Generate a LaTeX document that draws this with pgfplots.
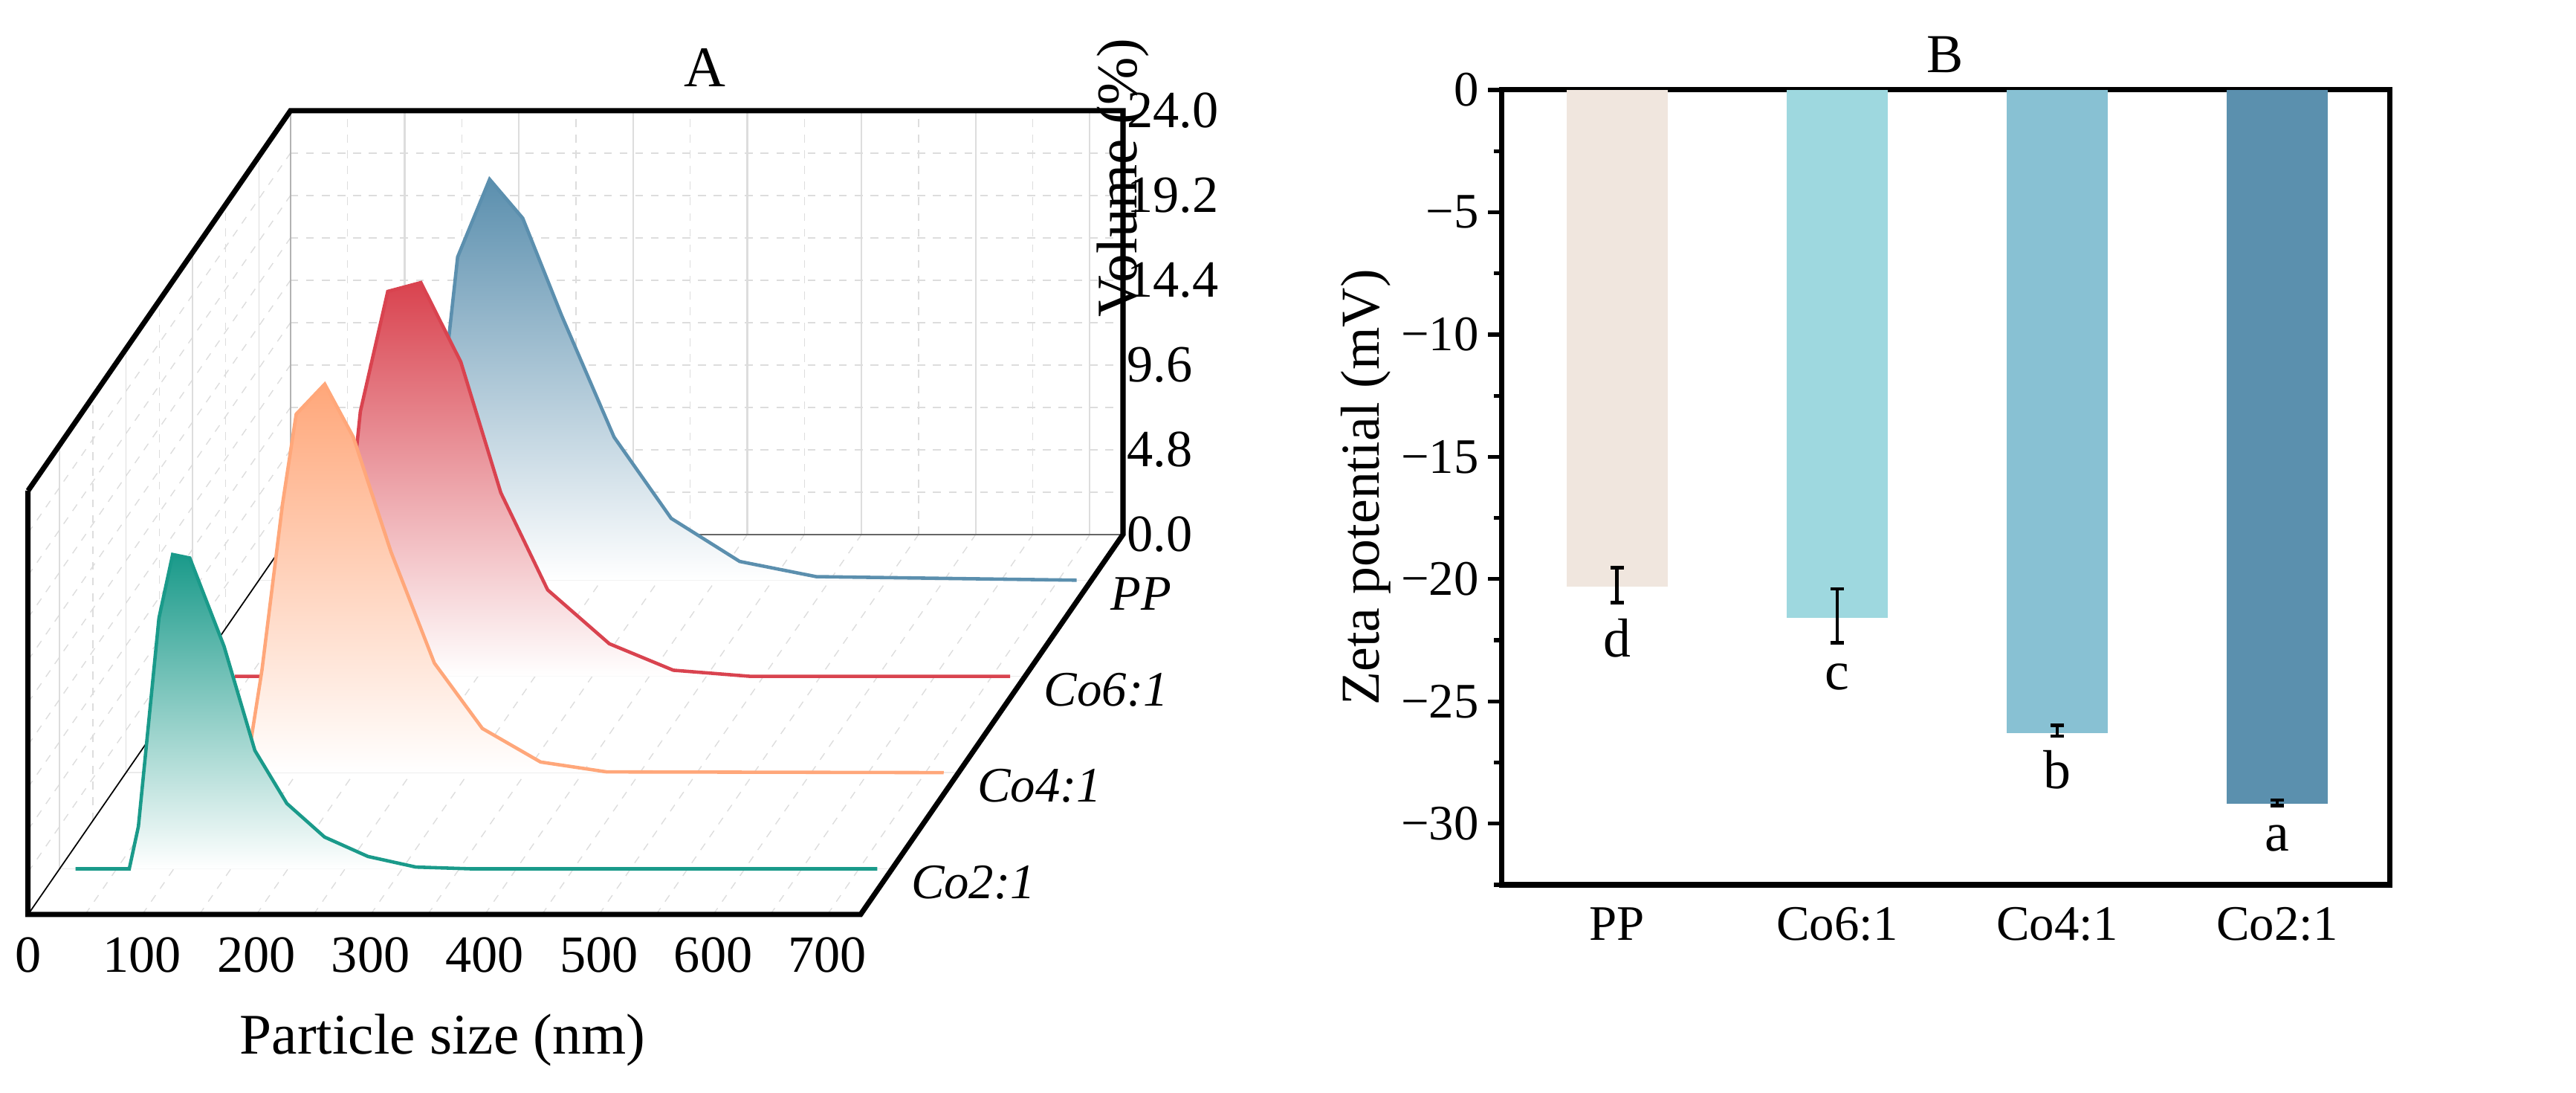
\documentclass[border=0pt]{standalone}
\usepackage{pgfplots}
\pgfplotsset{compat=1.18}
\usepackage{fontspec}
\setmainfont{Liberation Serif}
\definecolor{cPP}{HTML}{5B8FAE}
\definecolor{cC6}{HTML}{D9434F}
\definecolor{cC4}{HTML}{FFA77A}
\definecolor{cC2}{HTML}{1A9A8A}
\definecolor{bPP}{HTML}{F0E6DE}
\definecolor{bC6}{HTML}{9ED8DF}
\definecolor{bC4}{HTML}{88C1D3}
\definecolor{bC2}{HTML}{5B90AE}
\definecolor{gl}{HTML}{DDDDDD}
\begin{document}
\begin{tikzpicture}
\useasboundingbox (0,0) rectangle (34.66,-14.7);
\begin{axis}[
  at={(0.802cm,-11.685cm)}, anchor=origin,
  x={(0.01536cm,0cm)}, y={(0.894cm,1.294cm)}, z={(0cm,0.2375cm)},
  xmin=0, xmax=729, ymin=-0.475, ymax=3.475, zmin=0, zmax=24,
  hide axis, clip=false,
]
% grid: back wall
\foreach \xx in {100,200,...,700} {\edef\tmp{\noexpand\draw[gl,line width=0.6pt] (axis cs:\xx,3.475,0) -- (axis cs:\xx,3.475,24);}\tmp}
\foreach \xx in {50,150,...,650} {\edef\tmp{\noexpand\draw[gl,dashed,line width=0.4pt] (axis cs:\xx,3.475,0) -- (axis cs:\xx,3.475,24);}\tmp}
\foreach \zz in {2.4,4.8,...,21.7} {\edef\tmp{\noexpand\draw[gl,dashed,line width=0.4pt] (axis cs:0,3.475,\zz) -- (axis cs:729,3.475,\zz);}\tmp}
% floor
\foreach \xx in {50,100,...,700} {\edef\tmp{\noexpand\draw[gl,dashed,line width=0.4pt] (axis cs:\xx,-0.475,0) -- (axis cs:\xx,3.475,0);}\tmp}
\foreach \yy in {0,1,2,3} {\edef\tmp{\noexpand\draw[gl!60,line width=0.4pt] (axis cs:0,\yy,0) -- (axis cs:729,\yy,0);}\tmp}
% left wall
\foreach \yy in {0,1,2,3} {\edef\tmp{\noexpand\draw[gl,line width=0.5pt] (axis cs:0,\yy,0) -- (axis cs:0,\yy,24);}\tmp}
\foreach \yy in {-0.5,0.5,1.5,2.5} {\edef\tmp{\noexpand\draw[gl,dashed,line width=0.4pt] (axis cs:0,\yy,0) -- (axis cs:0,\yy,24);}\tmp}
\foreach \zz in {2.4,4.8,...,21.7} {\edef\tmp{\noexpand\draw[gl,dashed,line width=0.4pt] (axis cs:0,-0.475,\zz) -- (axis cs:0,3.475,\zz);}\tmp}
% thin edges
\draw[gray!80!black,line width=0.6pt] (axis cs:0,3.475,0) -- (axis cs:729,3.475,0);
\draw[gray!60,line width=0.6pt] (axis cs:0,3.475,0) -- (axis cs:0,3.475,24);
\draw[black,line width=0.5pt] (axis cs:0,-0.475,0) -- (axis cs:0,3.475,0);

% PP
\addplot3[draw=none, top color=cPP, bottom color=white] coordinates {
(14,3,0)(145,3,0)(162,3,11.2)(174,3,18.3)(202,3,22.7)(231,3,20.5)(265,3,15.0)(311,3,8.1)(361,3,3.5)(421,3,1.06)(488,3,0.2)(716,3,0)} -- cycle;
\addplot3[cPP, line width=1.3pt] coordinates {
(14,3,0)(145,3,0)(162,3,11.2)(174,3,18.3)(202,3,22.7)(231,3,20.5)(265,3,15.0)(311,3,8.1)(361,3,3.5)(421,3,1.06)(488,3,0.2)(716,3,0)};
% Co6:1
\addplot3[draw=none, top color=cC6, bottom color=white] coordinates {
(37,2,0)(117,2,0)(134,2,6.8)(147,2,15.0)(171,2,21.8)(200,2,22.3)(235,2,17.8)(270,2,10.4)(311,2,4.9)(365,2,1.85)(421,2,0.35)(489,2,0)(716,2,0)} -- cycle;
\addplot3[cC6, line width=1.3pt] coordinates {
(37,2,0)(117,2,0)(134,2,6.8)(147,2,15.0)(171,2,21.8)(200,2,22.3)(235,2,17.8)(270,2,10.4)(311,2,4.9)(365,2,1.85)(421,2,0.35)(489,2,0)(716,2,0)};
% Co4:1
\addplot3[draw=none, top color=cC4, bottom color=white] coordinates {
(16,1,0)(105,1,0)(119,1,5.8)(137,1,15.2)(149,1,20.3)(174,1,22.0)(199,1,19.0)(232,1,12.5)(270,1,6.2)(312,1,2.5)(363,1,0.6)(421,1,0.04)(716,1,0)} -- cycle;
\addplot3[cC4, line width=1.3pt] coordinates {
(16,1,0)(105,1,0)(119,1,5.8)(137,1,15.2)(149,1,20.3)(174,1,22.0)(199,1,19.0)(232,1,12.5)(270,1,6.2)(312,1,2.5)(363,1,0.6)(421,1,0.04)(716,1,0)};
% Co2:1
\addplot3[draw=none, top color=cC2, bottom color=white] coordinates {
(14,0,0)(61,0,0)(69,0,2.4)(87,0,14.2)(99,0,17.8)(114,0,17.6)(144,0,12.6)(171,0,6.7)(199,0,3.7)(232,0,1.8)(270,0,0.7)(312,0,0.1)(360,0,0)(716,0,0)} -- cycle;
\addplot3[cC2, line width=1.3pt] coordinates {
(14,0,0)(61,0,0)(69,0,2.4)(87,0,14.2)(99,0,17.8)(114,0,17.6)(144,0,12.6)(171,0,6.7)(199,0,3.7)(232,0,1.8)(270,0,0.7)(312,0,0.1)(360,0,0)(716,0,0)};

% frame
\draw[black,line width=2pt,line join=miter] (axis cs:0,-0.475,24) -- (axis cs:0,-0.475,0) -- (axis cs:729,-0.475,0) -- (axis cs:729,3.475,0) -- (axis cs:729,3.475,24) -- (axis cs:0,3.475,24) -- (axis cs:0,-0.475,24);
% tick labels
\foreach \xx in {0,100,...,700} {\edef\tmp{\noexpand\node[anchor=north,font=\noexpand\fontsize{20}{23}\noexpand\selectfont,inner sep=0pt] at (axis cs:\xx,-0.475,0) [yshift=-0.3cm] {\xx};}\tmp}
\foreach \zz/\lab in {0/0.0,4.8/4.8,9.6/9.6,14.4/14.4,19.2/19.2,24/24.0} {\edef\tmp{\noexpand\node[anchor=west,font=\noexpand\fontsize{20}{23}\noexpand\selectfont,inner sep=0pt] at (axis cs:729,3.475,\zz) [xshift=0.05cm] {\lab};}\tmp}
\foreach \yy/\lab in {0/Co2:1,1/Co4:1,2/Co6:1,3/PP} {\edef\tmp{\noexpand\node[anchor=west,font=\noexpand\fontsize{19}{22}\noexpand\selectfont\noexpand\itshape,inner sep=0pt] at (axis cs:729,\yy,0) [xshift=0.25cm,yshift=-0.18cm] {\lab};}\tmp}
\node[font=\fontsize{22}{25}\selectfont] at (axis cs:363,3.475,24) [yshift=0.58cm] {A};
\node[font=\fontsize{22}{25}\selectfont,rotate=90] at (axis cs:729,3.475,12) [xshift=1.95cm] {Volume (\%)};
\node[font=\fontsize{22}{25}\selectfont] at (axis cs:363,-0.475,0) [yshift=-1.69cm] {Particle size (nm)};
\end{axis}

\begin{axis}[
  at={(20.2cm,-11.9cm)}, anchor=south west,
  width=11.95cm, height=10.69cm, scale only axis,
  xmin=-0.526, xmax=3.51, ymin=-32.5, ymax=0,
  xtick={0,1,2,3}, xticklabels={PP,Co6:1,Co4:1,Co2:1},
  xtick style={draw=none},
  ytick={0,-5,-10,-15,-20,-25,-30},
  yticklabels={0,−5,−10,−15,−20,−25,−30},
  minor ytick={-2.5,-7.5,-12.5,-17.5,-22.5,-27.5,-32.5},
  ytick pos=left, tick align=outside,
  major tick length=0.18cm, minor tick length=0.1cm,
  every tick/.style={black,line width=1.5pt},
  axis line style={line width=2pt},
  ylabel={Zeta potential (mV)},
  title={B},
  title style={font=\fontsize{21}{24}\selectfont, yshift=-0.1cm},
  label style={font=\fontsize{21}{24}\selectfont},
  ylabel style={yshift=-0.1cm},
  tick label style={font=\fontsize{19}{22}\selectfont},
  clip=false,
]
\addplot[ybar, bar width=0.46, fill=bPP, draw=none, bar shift=0pt] coordinates {(0,-20.3)};
\addplot[ybar, bar width=0.46, fill=bC6, draw=none, bar shift=0pt] coordinates {(1,-21.6)};
\addplot[ybar, bar width=0.46, fill=bC4, draw=none, bar shift=0pt] coordinates {(2,-26.3)};
\addplot[ybar, bar width=0.46, fill=bC2, draw=none, bar shift=0pt] coordinates {(3,-29.2)};
\addplot[draw=none, mark=none, black,
  error bars/.cd, y dir=both, y explicit, error bar style={line width=1.3pt}, error mark options={rotate=90,mark size=2.5pt,line width=1.3pt}]
  coordinates {(0,-20.25)+-(0,0.72) (1,-21.5)+-(0,1.1) (2,-26.2)+-(0,0.22) (3,-29.15)+-(0,0.12)};
\node[font=\fontsize{21}{24}\selectfont] at (axis cs:0,-22.4) {d};
\node[font=\fontsize{21}{24}\selectfont] at (axis cs:1,-24.0) {c};
\node[font=\fontsize{21}{24}\selectfont] at (axis cs:2,-27.8) {b};
\node[font=\fontsize{21}{24}\selectfont] at (axis cs:3,-30.6) {a};
\end{axis}
\end{tikzpicture}
\end{document}
